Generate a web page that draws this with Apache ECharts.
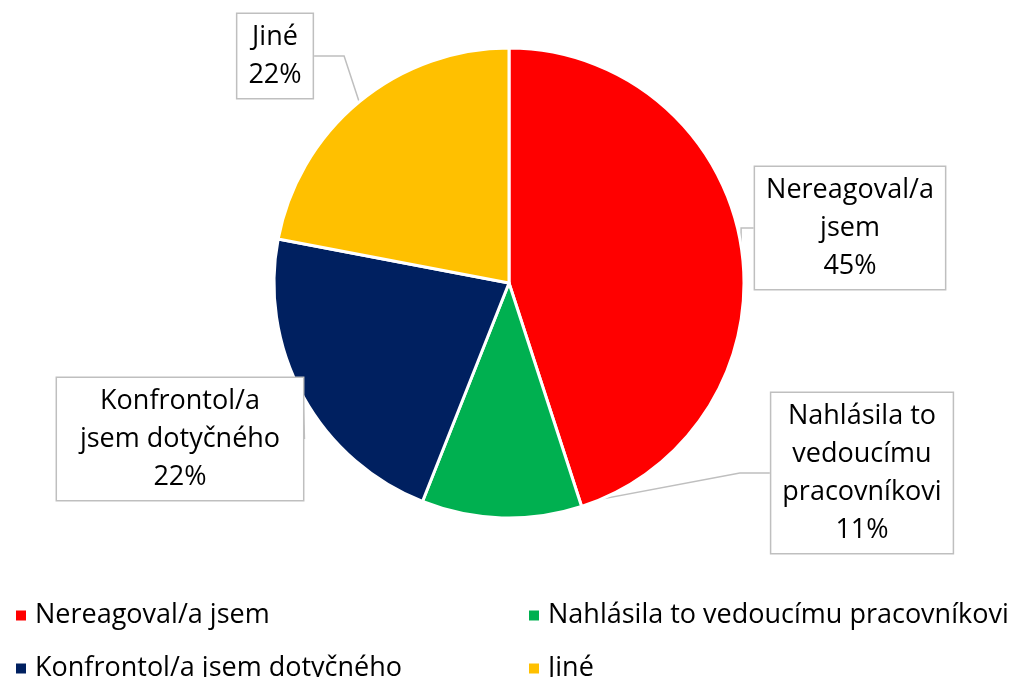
<!DOCTYPE html>
<html>
<head>
<meta charset="utf-8">
<script src="https://cdn.jsdelivr.net/npm/echarts@6/dist/echarts.min.js"></script>
<style>
  html, body { margin: 0; padding: 0; background: #fff; }
  #main { width: 1022px; height: 677px; }
</style>
</head>
<body>
<div id="main"></div>
<script>
// data
const categories = ['Nereagoval/a jsem', 'Nahlásila to vedoucímu pracovníkovi', 'Konfrontol/a jsem dotyčného', 'Jiné']
const values = [45, 11, 22, 22]
const labelNames = ['Nereagoval/a\njsem', 'Nahlásila to\nvedoucímu\npracovníkovi', 'Konfrontol/a\njsem dotyčného', 'Jiné']
const colors = ['#ff0000', '#00b050', '#002060', '#ffc000']

// callout box centres and legend item spots
const labelPos = [[850, 228], [862, 473], [180, 439], [275, 56]]
const legendPos = [[9, 597], [522, 597], [9, 650], [522, 650]]

const chart = echarts.init(document.getElementById('main'))
const font = 'Open Sans'

// one legend per item so the 2x2 grid is exact
const legends = categories.map((c, i) => ({
  left: legendPos[i][0],
  top: legendPos[i][1],
  data: [c],
  icon: 'rect',
  itemWidth: 12,
  itemHeight: 12,
  selectedMode: false,
  textStyle: { fontFamily: font, fontSize: 27, color: '#000', padding: [0, 0, 0, 3] }
}))

chart.setOption({
  animation: false,
  backgroundColor: '#fff',
  color: colors,
  legend: legends,
  series: [{
    type: 'pie',
    center: [509, 283],
    radius: 235,
    startAngle: 90,
    clockwise: true,
    itemStyle: { borderColor: '#fff', borderWidth: 3 },
    label: {
      show: true,
      position: 'outside',
      formatter: p => labelNames[p.dataIndex] + '\n' + p.value + '%',
      fontFamily: font,
      fontSize: 27,
      lineHeight: 38,
      color: '#000',
      align: 'center',
      backgroundColor: '#fff',
      borderColor: '#bfbfbf',
      borderWidth: 1.5,
      padding: [4, 11]
    },
    labelLine: {
      show: true,
      lineStyle: { color: '#bfbfbf', width: 1.5 }
    },
    labelLayout: p => ({
      x: labelPos[p.dataIndex][0],
      y: labelPos[p.dataIndex][1],
      align: 'center',
      verticalAlign: 'middle'
    }),
    emphasis: { disabled: true },
    data: categories.map((c, i) => ({ name: c, value: values[i] }))
  }]
})
</script>
</body>
</html>
